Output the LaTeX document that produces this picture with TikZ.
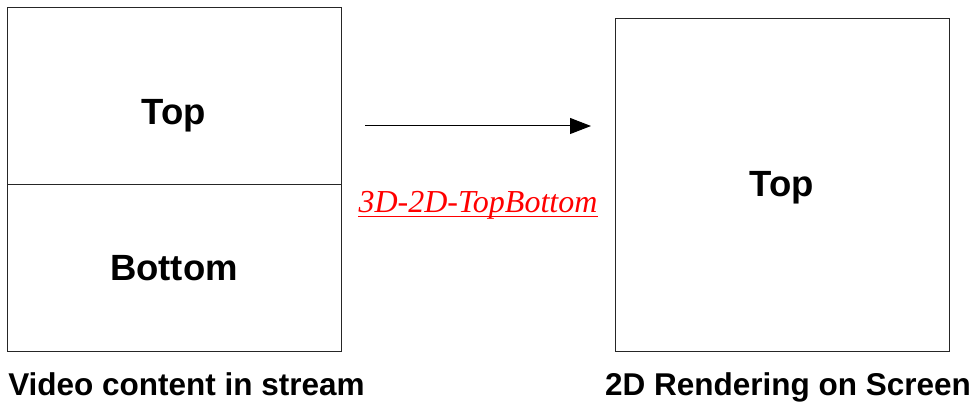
\documentclass[tikz,border=0pt]{standalone}
\usepackage{fontspec}
\setmainfont{Liberation Serif}
\setsansfont{Liberation Sans}
\usetikzlibrary{arrows.meta}
\begin{document}
\begin{tikzpicture}[x=1pt,y=-1pt,
  frame/.style={draw=black!85,line width=1pt,minimum width=334pt,inner sep=0pt,outer sep=0pt},
  big/.style={font=\sffamily\bfseries\fontsize{36.5}{40}\selectfont,anchor=base,inner sep=0pt},
  caption/.style={font=\sffamily\bfseries\fontsize{31.5}{36}\selectfont,anchor=base,inner sep=0pt},
  convlabel/.style={font=\rmfamily\itshape\fontsize{32}{36}\selectfont,text=red,anchor=base,inner sep=0pt}]
\useasboundingbox (0,0) rectangle (973,403);

% stream frame, split into its two halves
\node[frame,minimum height=177pt] (tophalf) at (174,96.5) {};
\node[frame,minimum height=166pt] (bothalf) at (174,268) {};
\node[big] (toptxt) at (174,125) {Top};
\node[big] (bottxt) at (174,280) {Bottom};
\node[caption] (leftcap) at (186.5,395) {Video content in stream};

% screen frame
\node[frame,minimum height=332pt] (screen) at (782,185) {};
\node[big] (scrtxt) at (782,197) {Top};
\node[caption] (rightcap) at (788,395) {2D Rendering on Screen};

% conversion arrow and its label
\coordinate (arrfrom) at (365,126);
\coordinate (arrto) at (591,126);
\draw[line width=1pt,-{Triangle[length=21pt,width=16pt]}] (arrfrom) -- (arrto);
\node[convlabel] (conv) at (478,212) {3D-2D-TopBottom};
\draw[red,line width=1pt] ([yshift=-5pt]conv.base west) -- ([yshift=-5pt]conv.base east);
\end{tikzpicture}
\end{document}
